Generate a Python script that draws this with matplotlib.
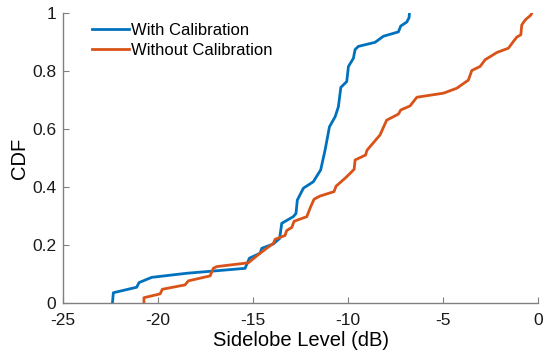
import matplotlib
matplotlib.use('Agg')
import matplotlib.pyplot as plt

plt.rcParams['font.family'] = ['Liberation Sans', 'DejaVu Sans']

# Curvas CDF
with_x = [-22.4, -22.35, -21.12, -21.0, -20.33, -18.49, -15.42, -15.19, -14.63, -14.54,
          -13.93, -13.6, -13.49, -12.88, -12.74, -12.67, -12.35, -11.83, -11.44, -11.21,
          -10.98, -10.68, -10.51, -10.38, -10.07, -9.98, -9.72, -9.63, -9.46, -8.58,
          -8.14, -7.35, -7.23, -6.91, -6.79, -6.77]
with_y = [0.0, 0.037, 0.056, 0.072, 0.09, 0.104, 0.121, 0.156, 0.173, 0.19,
          0.205, 0.224, 0.276, 0.299, 0.31, 0.356, 0.397, 0.419, 0.46, 0.528,
          0.608, 0.643, 0.677, 0.744, 0.764, 0.816, 0.844, 0.874, 0.885, 0.899,
          0.92, 0.935, 0.955, 0.969, 0.984, 1.0]

without_x = [-20.74, -20.74, -19.89, -19.77, -18.58, -18.4, -17.26, -17.09, -16.91, -15.25,
             -14.63, -13.93, -13.84, -13.32, -13.23, -12.96, -12.84, -12.17, -12.0, -11.79,
             -11.47, -10.74, -10.63, -10.16, -9.86, -9.68, -9.63, -9.08, -9.0, -8.32,
             -7.97, -7.35, -7.23, -6.74, -6.38, -4.98, -4.28, -3.67, -3.49, -3.05,
             -2.79, -2.17, -1.56, -1.3, -1.12, -0.91, -0.86, -0.68, -0.38, -0.33]
without_y = [0.0, 0.02, 0.033, 0.049, 0.064, 0.078, 0.095, 0.121, 0.127, 0.14,
             0.173, 0.207, 0.221, 0.234, 0.251, 0.262, 0.283, 0.299, 0.328, 0.359,
             0.37, 0.385, 0.404, 0.431, 0.45, 0.462, 0.494, 0.511, 0.528, 0.58,
             0.631, 0.652, 0.666, 0.68, 0.71, 0.724, 0.741, 0.769, 0.802, 0.816,
             0.839, 0.864, 0.879, 0.902, 0.917, 0.925, 0.959, 0.976, 0.993, 1.0]

labels = ['With Calibration', 'Without Calibration']
colors = ['#0072BD', '#D95319']
xticks = [-25, -20, -15, -10, -5, 0]
yticks = [0, 0.2, 0.4, 0.6, 0.8, 1]

fig = plt.figure(figsize=(5.43, 3.56), dpi=100)
ax = fig.add_axes([0.116, 0.1475, 0.875, 0.816])

ax.plot(with_x, with_y, color=colors[0], lw=2.0, label=labels[0])
ax.plot(without_x, without_y, color=colors[1], lw=2.0, label=labels[1])

ax.set_xlim(-25, 0)
ax.set_ylim(0, 1)
ax.set_xticks(xticks)
ax.set_xticklabels([str(t) for t in xticks])
ax.set_yticks(yticks)
ax.set_yticklabels(['0', '0.2', '0.4', '0.6', '0.8', '1'])

axcol = '#808080'
for s in ['top', 'right']:
    ax.spines[s].set_visible(False)
for s in ['left', 'bottom']:
    ax.spines[s].set_color(axcol)
    ax.spines[s].set_linewidth(1.0)
ax.tick_params(direction='in', length=4, color=axcol, labelsize=12.5, labelcolor='#1a1a1a')
ax.tick_params(axis='x', pad=7)
ax.tick_params(axis='y', pad=5)

ax.set_xlabel('Sidelobe Level (dB)', fontsize=14.5, labelpad=2)
ax.set_ylabel('CDF', fontsize=14.5, labelpad=2)

ax.legend(loc='upper left', frameon=False, fontsize=12, handlelength=2.2,
          handletextpad=0.15, labelspacing=0.3, borderaxespad=0.2,
          bbox_to_anchor=(0.04, 1.0))

fig.savefig('out.png', dpi=100)
